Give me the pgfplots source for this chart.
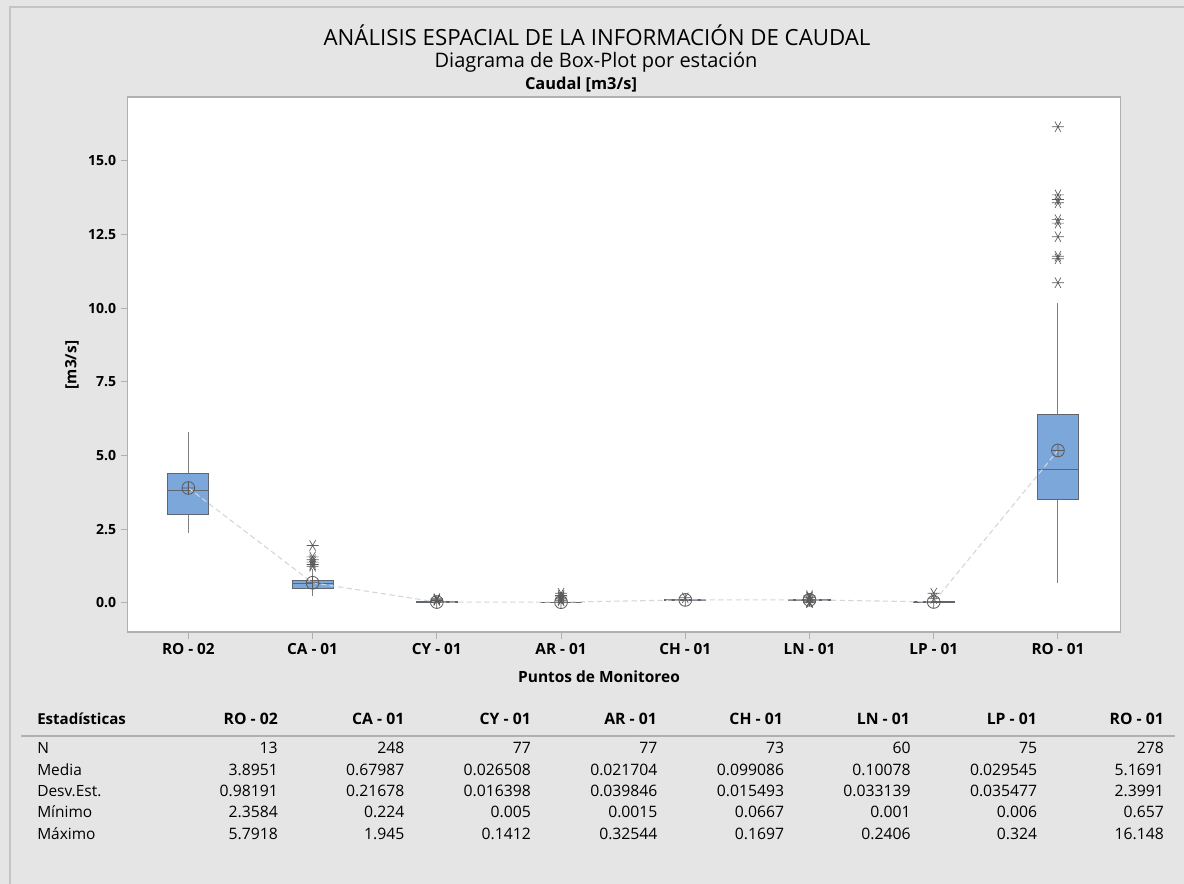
\documentclass[border=0pt]{standalone}
\usepackage{fontspec}
\setmainfont{Open Sans}
\usepackage{pgfplots}
\pgfplotsset{compat=1.18}
\usepgfplotslibrary{statistics}
\definecolor{bggray}{HTML}{E5E5E5}
\definecolor{framegray}{HTML}{C4C4C4}
\definecolor{axgray}{HTML}{B0B0B0}
\definecolor{boxblue}{HTML}{7BA7DA}
\definecolor{edgegray}{HTML}{5F6670}
\definecolor{whiskgray}{HTML}{808080}
\definecolor{markgray}{HTML}{5A5A5A}
\definecolor{dashgray}{HTML}{D6D6D6}
\newcommand{\fs}[1]{\fontsize{#1}{#1}\selectfont}
\newcommand{\trow}[3]{%
  \node[font=\fs{11.6}, anchor=west, inner sep=0pt] at (37,#1) {#2};
  \foreach \v [count=\i from 0] in {#3}
    \node[font=\fs{11.8}, anchor=east, inner sep=0pt] at (278+126.57*\i,#1) {\v};
}
\begin{document}
\begin{tikzpicture}
\begin{scope}[x=0.75pt,y=-0.75pt]
\useasboundingbox (0,0) rectangle (1184,884);
\fill[bggray] (0,0) rectangle (1184,884);
\draw[framegray,line width=0.8pt] (10,884) -- (10,7) -- (1184,7);
\node[font=\fs{16.7}] at (597,35) {ANÁLISIS ESPACIAL DE LA INFORMACIÓN DE CAUDAL};
\node[font=\fs{15}] at (596,62.5) {Diagrama de Box-Plot por estación};
\node[font=\bfseries\fs{12.3}] at (581,85) {Caudal [m3/s]};
\node[font=\bfseries\fs{11.6}] at (599,677) {Puntos de Monitoreo};
\node[font=\bfseries\fs{11.6}, rotate=90] at (72,365) {[m3/s]};
% table
\draw[axgray,line width=1.5pt] (21,736) -- (1175,736);
\node[font=\bfseries\fs{11.3}, anchor=west, inner sep=0pt] at (37,719) {Estadísticas};
\foreach \x/\t in {278/RO - 02,404.5/CA - 01,531/CY - 01,657/AR - 01,783/CH - 01,910/LN - 01,1037/LP - 01,1164/RO - 01}
  \node[font=\bfseries\fs{11.8}, anchor=east, inner sep=0pt] at (\x,719) {\t};
\trow{748}{N}{13,248,77,77,73,60,75,278}
\trow{770}{Media}{3.8951,0.67987,0.026508,0.021704,0.099086,0.10078,0.029545,5.1691}
\trow{791}{Desv.Est.}{0.98191,0.21678,0.016398,0.039846,0.015493,0.033139,0.035477,2.3991}
\trow{812}{Mínimo}{2.3584,0.224,0.005,0.0015,0.0667,0.001,0.006,0.657}
\trow{834}{Máximo}{5.7918,1.945,0.1412,0.32544,0.1697,0.2406,0.324,16.148}
\end{scope}
\begin{axis}[
  at={(95.625pt,-474pt)}, anchor=south west,
  scale only axis, width=744.4pt, height=401.25pt,
  xmin=-0.49, xmax=7.5, ymin=-0.99, ymax=17.16,
  axis background/.style={fill=white},
  axis line style={draw=axgray, line width=0.8pt},
  xtick={0,...,7},
  xticklabels={RO - 02,CA - 01,CY - 01,AR - 01,CH - 01,LN - 01,LP - 01,RO - 01},
  ytick={0,2.5,5,7.5,10,12.5,15},
  xtick pos=bottom, ytick pos=left,
  tick align=outside, major tick length=5pt,
  tick style={draw=axgray, line width=0.8pt},
  /pgf/number format/assume math mode=true,
  yticklabel style={font=\bfseries\fs{10.5}, /pgf/number format/.cd, fixed, fixed zerofill, precision=1},
  xticklabel style={font=\bfseries\fs{11.5}},
  boxplot/draw direction=y,
  boxplot/box extend=0.33,
  boxplot/whisker extend=0,
  boxplot/every box/.style={draw=edgegray, fill=boxblue, line width=0.8pt},
  boxplot/every whisker/.style={draw=whiskgray, line width=0.8pt},
  boxplot/every median/.style={draw=edgegray, line width=0.8pt},
  every axis plot/.append style={mark=asterisk, mark size=4.5pt, mark options={draw=markgray, rotate=90, line width=0.5pt}},
]
% RO-02
\addplot[boxplot prepared={draw position=0, lower whisker=2.3584, lower quartile=2.99, median=3.81, upper quartile=4.39, upper whisker=5.7918}] coordinates {};
% CA-01
\addplot[boxplot prepared={draw position=1, lower whisker=0.224, lower quartile=0.48, median=0.64, upper quartile=0.77, upper whisker=1.16}] coordinates {(1,1.945) (1,1.56) (1,1.46) (1,1.38) (1,1.30) (1,1.24)};
% CY-01
\addplot[boxplot prepared={draw position=2, lower whisker=0.005, lower quartile=0.015, median=0.024, upper quartile=0.034, upper whisker=0.06}] coordinates {(2,0.08) (2,0.1) (2,0.12) (2,0.1412)};
% AR-01
\addplot[boxplot prepared={draw position=3, lower whisker=0.0015, lower quartile=0.005, median=0.01, upper quartile=0.022, upper whisker=0.045}] coordinates {(3,0.07) (3,0.1) (3,0.15) (3,0.2) (3,0.25) (3,0.32544)};
% CH-01
\addplot[boxplot prepared={draw position=4, lower whisker=0.0667, lower quartile=0.09, median=0.1, upper quartile=0.11, upper whisker=0.14}] coordinates {(4,0.1697)};
% LN-01
\addplot[boxplot prepared={draw position=5, lower whisker=0.05, lower quartile=0.085, median=0.1, upper quartile=0.115, upper whisker=0.15}] coordinates {(5,0.001) (5,0.02) (5,0.04) (5,0.17) (5,0.2) (5,0.2406)};
% LP-01
\addplot[boxplot prepared={draw position=6, lower whisker=0.006, lower quartile=0.012, median=0.02, upper quartile=0.038, upper whisker=0.075}] coordinates {(6,0.15) (6,0.324)};
% RO-01
\addplot[boxplot prepared={draw position=7, lower whisker=0.657, lower quartile=3.51, median=4.52, upper quartile=6.38, upper whisker=10.18}] coordinates {(7,16.148) (7,13.84) (7,13.68) (7,13.57) (7,13.0) (7,12.88) (7,12.42) (7,11.76) (7,11.67) (7,10.86)};
% mean connect line
\addplot[draw=dashgray, line width=0.8pt, dash pattern=on 4pt off 2.5pt, mark=none] coordinates {(0,3.8951) (1,0.67987) (2,0.026508) (3,0.021704) (4,0.099086) (5,0.10078) (6,0.029545) (7,5.1691)};
% means
\addplot[only marks, mark=oplus, mark size=4.8pt, mark options={draw=markgray, fill=none, rotate=0, line width=0.6pt}] coordinates {(0,3.8951) (1,0.67987) (2,0.026508) (3,0.021704) (4,0.099086) (5,0.10078) (6,0.029545) (7,5.1691)};
\end{axis}
\end{tikzpicture}
\end{document}
